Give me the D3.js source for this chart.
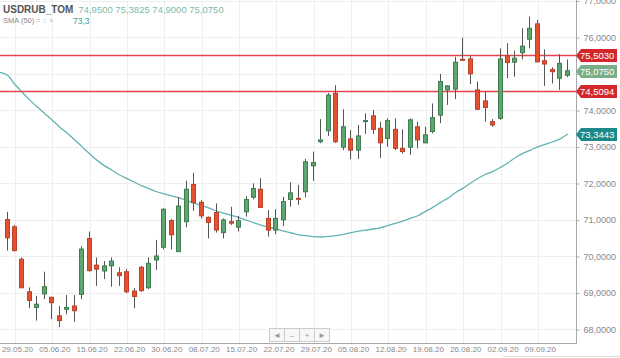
<!DOCTYPE html>
<html><head><meta charset="utf-8">
<script src="https://cdn.jsdelivr.net/npm/d3@7"></script>
<style>body{margin:0;background:#fff}svg{display:block;font-family:"Liberation Sans",Arial,sans-serif}</style>
</head><body><svg id="c" width="620" height="358"></svg>
<script>
// trading-day labels (27.05.20 is only used by the SMA lead-in)
const dates = ["27.05.20","28.05.20","29.05.20","01.06.20","02.06.20","03.06.20","04.06.20","05.06.20","08.06.20","09.06.20","10.06.20","11.06.20","15.06.20","16.06.20","17.06.20","18.06.20","19.06.20","22.06.20","23.06.20","25.06.20","26.06.20","29.06.20","30.06.20","02.07.20","03.07.20","06.07.20","07.07.20","08.07.20","09.07.20","10.07.20","13.07.20","14.07.20","15.07.20","16.07.20","17.07.20","20.07.20","21.07.20","22.07.20","23.07.20","24.07.20","27.07.20","28.07.20","29.07.20","30.07.20","31.07.20","03.08.20","04.08.20","05.08.20","06.08.20","07.08.20","10.08.20","11.08.20","12.08.20","13.08.20","14.08.20","17.08.20","18.08.20","19.08.20","20.08.20","21.08.20","24.08.20","25.08.20","26.08.20","27.08.20","28.08.20","31.08.20","01.09.20","02.09.20","03.09.20","04.09.20","07.09.20","08.09.20","09.09.20","10.09.20","11.09.20","14.09.20","15.09.20"];
// candles start at 28.05.20
const openV = [71.00,70.80,69.91,69.02,68.59,68.96,68.87,68.36,68.54,68.63,68.95,70.48,69.75,69.59,69.73,69.54,69.57,69.04,69.69,69.13,69.89,70.24,70.97,70.12,70.94,71.96,71.47,71.06,71.19,70.64,70.94,70.79,71.21,71.61,71.83,71.03,70.71,70.99,71.55,71.58,71.76,72.47,73.13,73.43,74.46,72.98,73.21,72.90,73.70,73.84,73.50,73.22,73.47,72.95,72.98,73.54,73.10,73.41,73.86,74.55,74.57,75.39,75.40,74.55,74.25,73.68,73.77,75.49,75.31,75.57,75.94,76.36,75.35,75.11,74.87,74.95];
const highV = [71.21,70.85,69.96,69.14,68.91,69.57,68.88,68.63,68.93,68.93,70.27,70.67,69.96,69.86,69.96,69.69,69.64,69.12,69.73,69.96,70.44,71.31,71.01,71.62,72.06,72.28,71.53,71.08,71.44,71.03,71.35,71.10,71.64,71.99,72.13,71.26,71.28,71.62,72.02,71.95,72.66,72.86,73.75,74.47,74.68,74.02,73.45,73.59,73.91,74.00,73.68,73.77,73.77,73.47,73.77,73.68,73.54,74.18,74.99,74.68,75.46,75.98,75.48,74.78,74.50,73.75,75.69,75.83,75.63,76.24,76.56,76.47,75.66,75.17,75.53,75.3825];
const lowV = [70.15,70.12,69.12,68.57,68.23,68.82,68.27,68.05,68.40,68.20,68.82,69.57,69.18,69.37,69.16,69.18,68.98,68.57,69.02,69.09,69.62,70.18,70.18,70.12,70.79,71.24,71.03,70.48,70.64,70.48,70.85,70.67,71.08,71.55,71.33,70.53,70.60,70.82,71.35,71.40,71.61,72.06,73.09,73.29,73.10,72.90,72.65,72.66,73.34,73.34,72.69,72.99,72.90,72.81,72.77,72.95,73.09,73.36,73.64,74.14,74.30,75.37,74.71,74.00,73.68,73.54,73.73,74.87,74.91,75.39,75.69,75.30,74.66,74.73,74.55,74.90];
const closeV = [70.50,70.15,69.13,68.78,68.68,69.16,68.72,68.23,68.59,68.50,70.19,69.60,69.64,69.73,69.86,69.46,69.02,68.89,69.05,69.80,70.00,71.28,70.58,71.37,71.83,71.46,71.10,70.92,70.71,70.99,70.90,70.97,71.55,71.85,71.33,70.71,71.03,71.49,71.73,71.56,72.58,72.56,73.18,74.41,73.13,73.54,72.90,73.29,73.71,73.47,73.10,73.71,72.95,72.86,73.73,73.18,73.32,73.79,74.78,74.66,75.31,75.36,74.99,74.02,74.07,73.59,75.40,75.30,75.42,75.75,76.24,75.32,75.26,75.05,75.28,75.075];
// SMA(50), starts at 27.05.20
const smaV = [75.03,74.95,74.70,74.48,74.27,74.08,73.90,73.72,73.53,73.36,73.18,72.99,72.80,72.62,72.47,72.35,72.22,72.12,72.02,71.92,71.84,71.76,71.70,71.64,71.59,71.52,71.45,71.38,71.31,71.23,71.17,71.11,71.05,70.98,70.91,70.84,70.79,70.74,70.68,70.63,70.58,70.56,70.53,70.52,70.54,70.56,70.59,70.64,70.68,70.71,70.74,70.78,70.84,70.90,70.96,71.04,71.11,71.23,71.34,71.47,71.59,71.74,71.86,72.00,72.13,72.24,72.32,72.43,72.55,72.70,72.81,72.90,72.99,73.06,73.13,73.21,73.34];
const yTicks = [68,69,70,71,72,73,74,75,76,77];
const xTickLabels = ["29.05.20","05.06.20","15.06.20","22.06.20","30.06.20","08.07.20","15.07.20","22.07.20","29.07.20","05.08.20","12.08.20","19.08.20","26.08.20","02.09.20","09.09.20"];
const levelLines = [75.5030, 74.5094];
const lastPrice = 75.0750;
const lastSma = 73.3443;
const legendName = "USDRUB_TOM";
const legendOHLC = [74.9500, 75.3825, 74.9000, 75.0750];
const smaLegend = "73,3";

const W = 576, H = 343;
const svg = d3.select("#c");
const fmt = v => d3.format(".4f")(v).replace(".", ",");
// index 0 = 27.05.20
const idx = d => dates.indexOf(d);
const x = d3.scaleLinear().domain([idx("29.05.20") - 2.005, idx("15.09.20") + 1.1]).range([0, W]);
const y = d3.scaleLinear().domain([68, 76]).range([329, 37]);

svg.append("defs").append("clipPath").attr("id","pc").append("rect").attr("x",0).attr("y",0).attr("width",W).attr("height",H);

// grid
const grid = svg.append("g");
grid.selectAll("rect.hg").data(yTicks).join("rect").attr("class","hg")
  .attr("x",0).attr("width",W).attr("y",d=>Math.round(y(d))).attr("height",1)
  .attr("fill","#eeeeee");
grid.selectAll("rect.vg").data(xTickLabels).join("rect").attr("class","vg")
  .attr("x",d=>Math.round(x(idx(d)))).attr("width",1).attr("y",0).attr("height",H)
  .attr("fill","#eeeeee");

// frame
svg.append("rect").attr("x",W).attr("y",0).attr("width",1).attr("height",H+1).attr("fill","#a8a8a8");
svg.append("rect").attr("x",0).attr("y",H).attr("width",W+1).attr("height",1).attr("fill","#a8a8a8");
svg.append("rect").attr("x",503).attr("y",356).attr("width",117).attr("height",1).attr("fill","#dddddd");

// y axis
const ya = svg.append("g").attr("transform",`translate(${W+0.5},0.5)`)
  .call(d3.axisRight(y).tickValues(yTicks).tickSize(3).tickPadding(4).tickFormat(fmt));
ya.select(".domain").remove();
ya.selectAll("line").attr("stroke","#aaaaaa");
ya.selectAll("text").attr("fill","#888").attr("font-size",9).attr("font-family","Liberation Sans, Arial, sans-serif");
// the tick label hidden behind the last-price tag in the reference
ya.selectAll(".tick").filter(d=>Math.abs(y(d)-y(lastPrice))<8).select("text").remove();

// x axis labels
const xa = svg.append("g").attr("transform",`translate(0,${H})`)
  .call(d3.axisBottom(x).tickValues(xTickLabels.map(idx)).tickSize(0).tickPadding(3).tickFormat(i=>dates[i]));
xa.select(".domain").remove();
xa.selectAll("text").attr("fill","#888").attr("font-size",8).attr("dx",2).attr("font-family","Liberation Sans, Arial, sans-serif");

const plot = svg.append("g").attr("clip-path","url(#pc)");

// SMA line
plot.append("path").datum(smaV)
  .attr("d", d3.line().x((d,i)=>x(i)).y(d=>y(d)).curve(d3.curveMonotoneX))
  .attr("fill","none").attr("stroke","#62b3b3").attr("stroke-width",1.3);

// level lines (under the candles)
plot.append("g").selectAll("rect.lv").data(levelLines).join("rect").attr("class","lv")
  .attr("x",0).attr("width",W).attr("y",d=>Math.round(y(d))-0.25).attr("height",1.5)
  .attr("fill","#e4434d");

// candles
const candles = openV.map((o,k)=>({i:k+1,o,h:highV[k],l:lowV[k],c:closeV[k]}));
const cg = plot.selectAll("g.cd").data(candles).join("g").attr("class","cd");
cg.append("rect")
  .attr("x",d=>Math.round(x(d.i))-1).attr("width",1)
  .attr("y",d=>y(d.h)).attr("height",d=>y(d.l)-y(d.h))
  .attr("fill","#555");
cg.append("rect")
  .attr("x",d=>Math.round(x(d.i))-2.5).attr("width",4)
  .attr("y",d=>Math.min(y(d.o),y(d.c)))
  .attr("height",d=>Math.max(1,Math.abs(y(d.o)-y(d.c))))
  .attr("fill",d=>d.c>=d.o?"#5ea66f":"#e5512f")
  .attr("stroke",d=>d.c>=d.o?"#3f7d50":"#b9432a").attr("stroke-width",1);

// price tags
const tags = [
  ...levelLines.map(v=>({v,fill:"#d3272c"})),
  {v:lastPrice, fill:"#7aae86"},
  {v:lastSma, fill:"#1b8a8a"}
];
const tg = svg.selectAll("g.tg").data(tags).join("g").attr("class","tg").attr("transform",d=>`translate(${W},${Math.round(y(d.v))})`);
tg.append("path").attr("d","M0,0.5 L5,-6 L41,-6 L41,7 L5,7 Z").attr("fill",d=>d.fill);
tg.append("text").attr("x",4).attr("y",4).attr("fill","#fff").attr("font-size",9.5).text(d=>fmt(d.v));

// legend
const lg = svg.append("g");
const nameT = lg.append("text").attr("x",3).attr("y",13).attr("font-size",10).attr("font-weight","bold").attr("fill","#555").text(legendName);
const nameW = nameT.node().getComputedTextLength();
lg.append("text").attr("x",3+nameW+5).attr("y",13).attr("font-size",9.5).attr("fill","#7dbaaa")
  .text(legendOHLC.map(fmt).join(" "));
lg.append("text").attr("x",3).attr("y",23).attr("font-size",7.5).attr("fill","#888").text("SMA (50)");
lg.append("text").attr("x",36).attr("y",23).attr("font-size",7.5).attr("fill","#bbb").text("=  ○  ×");
lg.append("text").attr("x",73).attr("y",23.5).attr("font-size",8.5).attr("fill","#3aa0a0").text(smaLegend);

// navigation buttons
const nav = ["◄","–","+","►"];
const nb = svg.selectAll("g.nb").data(nav).join("g").attr("class","nb").attr("transform",(d,i)=>`translate(${269.5+i*15},328.5)`);
nb.append("rect").attr("width",15).attr("height",13).attr("fill","#f7f7f7").attr("stroke","#cccccc");
nb.append("text").attr("x",7.5).attr("y",9.5).attr("text-anchor","middle").attr("font-size",8).attr("fill","#999").text(d=>d);
</script></body></html>
